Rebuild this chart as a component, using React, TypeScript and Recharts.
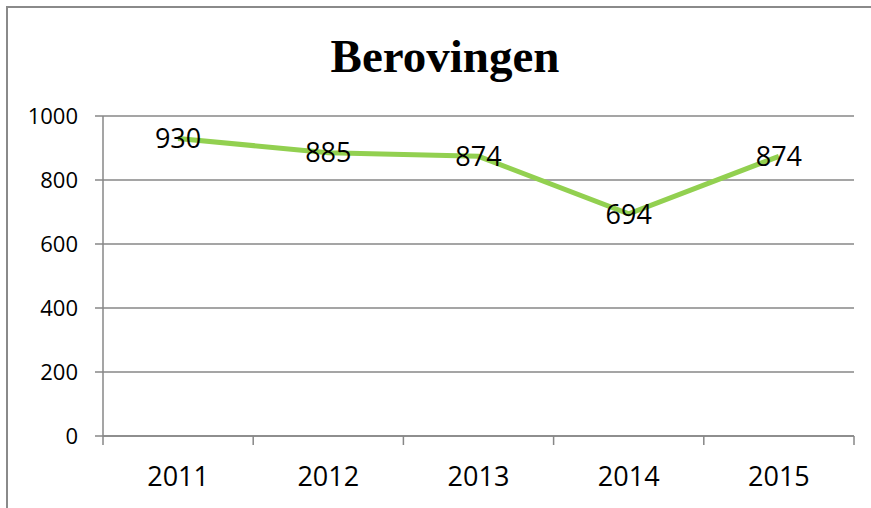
import React from 'react';
import { LineChart, Line, XAxis, YAxis, CartesianGrid, LabelList } from 'recharts';

const years = ['2011', '2012', '2013', '2014', '2015'];
const robberies = [930, 885, 874, 694, 874];
const yTicks = [0, 200, 400, 600, 800, 1000];

const data = years.map((year, i) => ({ year, value: robberies[i] }));

const GRID = '#878787';
const FONT = '"Open Sans", sans-serif';
const X_TICK = 9;
const X_MARGIN = 22;

// Excel draws the category tick marks between the bands, not under the labels
const YearTick = (props: any) => {
  const { x, y, payload, index } = props;
  const half = payload && payload.offset ? payload.offset : 0;
  const axisY = y - X_TICK - X_MARGIN;
  return (
    <g>
      <line x1={x - half} x2={x - half} y1={axisY} y2={axisY + X_TICK} stroke={GRID} strokeWidth={1.5} />
      {index === years.length - 1 && (
        <line x1={x + half} x2={x + half} y1={axisY} y2={axisY + X_TICK} stroke={GRID} strokeWidth={1.5} />
      )}
      <text x={x} y={y} dy="0.71em" textAnchor="middle" fill="#000" fontSize={27} fontFamily={FONT}>
        {payload.value}
      </text>
    </g>
  );
};

export default function App() {
  return (
    <div style={{ position: 'absolute', left: 0, top: 0, width: 871, height: 508, overflow: 'hidden', background: '#fff' }}>
      <div
        style={{
          position: 'absolute',
          left: 6,
          top: 6,
          width: 880,
          height: 530,
          border: '2px solid #8a8a8a',
          boxSizing: 'border-box',
        }}
      />
      <div
        style={{
          position: 'absolute',
          left: 0,
          width: 890,
          top: 26,
          textAlign: 'center',
          fontFamily: '"Liberation Serif", "Times New Roman", serif',
          fontWeight: 'bold',
          fontSize: 47,
          lineHeight: '60px',
          color: '#000',
        }}
      >
        Berovingen
      </div>
      <div style={{ position: 'absolute', left: 0, top: 0 }}>
        <LineChart width={871} height={508} data={data} margin={{ top: 116, right: 17, bottom: 0, left: 0 }}>
          <CartesianGrid horizontal vertical={false} stroke={GRID} strokeWidth={1.5} />
          <XAxis
            dataKey="year"
            scale="band"
            height={72}
            axisLine={{ stroke: GRID, strokeWidth: 1.5 }}
            tickLine={false}
            tickSize={X_TICK}
            tickMargin={X_MARGIN}
            tick={<YearTick />}
            interval={0}
          />
          <YAxis
            domain={[0, 1000]}
            ticks={yTicks}
            width={103}
            tickSize={8}
            tickMargin={17}
            axisLine={{ stroke: GRID, strokeWidth: 1.5 }}
            tickLine={{ stroke: GRID, strokeWidth: 1.5 }}
            tick={{ fill: '#000', fontSize: 22, fontFamily: FONT }}
          />
          <Line
            type="linear"
            dataKey="value"
            stroke="#92D050"
            strokeWidth={5}
            dot={false}
            activeDot={false}
            isAnimationActive={false}
          >
            <LabelList dataKey="value" position="center" fill="#000" fontSize={27} fontFamily={FONT} />
          </Line>
        </LineChart>
      </div>
    </div>
  );
}
